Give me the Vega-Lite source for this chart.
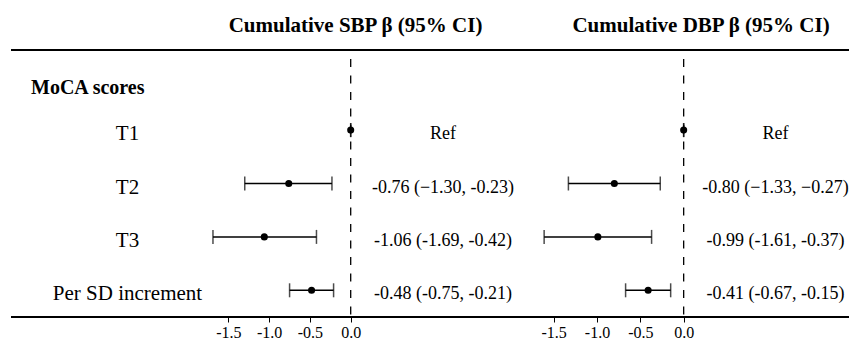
{
  "$schema": "https://vega.github.io/schema/vega-lite/v6.json",
  "padding": {"left": 10, "top": 15, "right": 0, "bottom": 0},
  "config": {
    "view": {"stroke": null},
    "concat": {"spacing": 0},
    "font": "Liberation Serif, Times New Roman, DejaVu Serif, serif",
    "locale": {"number": {"decimal": ".", "thousands": ",", "grouping": [3], "currency": ["$", ""], "minus": "-"}},
    "title": {"font": "Liberation Serif, Times New Roman, DejaVu Serif, serif", "fontSize": 21, "fontWeight": "bold", "color": "black", "offset": 13, "anchor": "middle"},
    "text": {"font": "Liberation Serif, Times New Roman, DejaVu Serif, serif", "color": "black"},
    "axis": {"labelFont": "Liberation Serif, Times New Roman, DejaVu Serif, serif"}
  },
  "datasets": {
    "est": [
      {"row": "T1", "sbp": 0, "sbp_lo": 0, "sbp_hi": 0, "sbp_txt": "Ref", "dbp": 0, "dbp_lo": 0, "dbp_hi": 0, "dbp_txt": "Ref"},
      {"row": "T2", "sbp": -0.76, "sbp_lo": -1.30, "sbp_hi": -0.23, "sbp_txt": "-0.76 (−1.30, -0.23)", "dbp": -0.80, "dbp_lo": -1.33, "dbp_hi": -0.27, "dbp_txt": "-0.80 (−1.33, −0.27)"},
      {"row": "T3", "sbp": -1.06, "sbp_lo": -1.69, "sbp_hi": -0.42, "sbp_txt": "-1.06 (-1.69, -0.42)", "dbp": -0.99, "dbp_lo": -1.61, "dbp_hi": -0.37, "dbp_txt": "-0.99 (-1.61, -0.37)"},
      {"row": "Per SD increment", "sbp": -0.48, "sbp_lo": -0.75, "sbp_hi": -0.21, "sbp_txt": "-0.48 (-0.75, -0.21)", "dbp": -0.41, "dbp_lo": -0.67, "dbp_hi": -0.15, "dbp_txt": "-0.41 (-0.67, -0.15)"}
    ]
  },
  "spacing": 0,
  "bounds": "flush",
  "hconcat": [
    {
      "width": 193,
      "height": 267,
      "data": {"name": "est"},
      "layer": [
        {"data": {"values": [{}]}, "mark": {"type": "rule", "strokeWidth": 2, "color": "black"}, "encoding": {"y": {"datum": "MoCA scores", "type": "nominal", "bandPosition": 0, "scale": {"domain": ["MoCA scores", "T1", "T2", "T3", "Per SD increment"], "paddingInner": 0, "paddingOuter": 0}, "axis": null}}},
        {"data": {"values": [{}]}, "mark": {"type": "rule", "strokeWidth": 2, "color": "black"}, "encoding": {"y": {"datum": "Per SD increment", "type": "nominal", "bandPosition": 1, "scale": {"domain": ["MoCA scores", "T1", "T2", "T3", "Per SD increment"], "paddingInner": 0, "paddingOuter": 0}, "axis": null}}},
        {"mark": {"type": "text", "fontSize": 21, "dx": 20, "dy": 4}, "encoding": {"y": {"field": "row", "type": "nominal", "scale": {"domain": ["MoCA scores", "T1", "T2", "T3", "Per SD increment"], "paddingInner": 0, "paddingOuter": 0}, "axis": null}, "text": {"field": "row"}}},
        {"data": {"values": [{"row": "MoCA scores"}]}, "mark": {"type": "text", "fontSize": 20, "fontWeight": "bold", "align": "left", "dx": -76.5, "dy": 11}, "encoding": {"y": {"field": "row", "type": "nominal", "scale": {"domain": ["MoCA scores", "T1", "T2", "T3", "Per SD increment"], "paddingInner": 0, "paddingOuter": 0}, "axis": null}, "text": {"field": "row"}}}
      ]
    },
    {
      "title": {"text": "Cumulative SBP  β (95% CI)", "dx": 70},
      "width": 163,
      "height": 267,
      "data": {"name": "est"},
      "layer": [
        {"data": {"values": [{}]}, "mark": {"type": "rule", "strokeWidth": 2, "color": "black"}, "encoding": {"y": {"datum": "MoCA scores", "type": "nominal", "bandPosition": 0, "scale": {"domain": ["MoCA scores", "T1", "T2", "T3", "Per SD increment"], "paddingInner": 0, "paddingOuter": 0}, "axis": null}}},
        {"data": {"values": [{}]}, "mark": {"type": "rule", "strokeWidth": 2, "color": "black"}, "encoding": {"y": {"datum": "Per SD increment", "type": "nominal", "bandPosition": 1, "scale": {"domain": ["MoCA scores", "T1", "T2", "T3", "Per SD increment"], "paddingInner": 0, "paddingOuter": 0}, "axis": null}}},
        {"data": {"values": [{}]}, "mark": {"type": "rule", "strokeWidth": 1.3, "strokeDash": [8, 8.5], "color": "black"}, "encoding": {
          "x": {"datum": 0, "type": "quantitative", "scale": {"domain": [-1.8, 0.2], "nice": false, "zero": false}, "axis": {"values": [-1.5, -1, -0.5, 0], "format": ".1f", "title": null, "domain": false, "grid": false, "ticks": true, "tickSize": 5, "tickWidth": 1, "tickColor": "black", "labelFontSize": 16, "labelColor": "black", "labelPadding": 2}},
          "y": {"datum": "MoCA scores", "type": "nominal", "bandPosition": 0.17, "scale": {"domain": ["MoCA scores", "T1", "T2", "T3", "Per SD increment"], "paddingInner": 0, "paddingOuter": 0}, "axis": null},
          "y2": {"datum": "Per SD increment", "bandPosition": 1}}},
        {"mark": {"type": "rule", "strokeWidth": 1.5, "color": "black"}, "encoding": {
          "x": {"field": "sbp_lo", "type": "quantitative", "title": null},
          "x2": {"field": "sbp_hi"},
          "y": {"field": "row", "type": "nominal", "axis": null}}},
        {"mark": {"type": "tick", "thickness": 1.5, "size": 14, "orient": "vertical", "color": "black"}, "encoding": {
          "x": {"field": "sbp_lo", "type": "quantitative", "title": null},
          "y": {"field": "row", "type": "nominal", "axis": null}}},
        {"mark": {"type": "tick", "thickness": 1.5, "size": 14, "orient": "vertical", "color": "black"}, "encoding": {
          "x": {"field": "sbp_hi", "type": "quantitative", "title": null},
          "y": {"field": "row", "type": "nominal", "axis": null}}},
        {"mark": {"type": "point", "filled": true, "size": 50, "opacity": 1, "color": "black"}, "encoding": {
          "x": {"field": "sbp", "type": "quantitative", "title": null},
          "y": {"field": "row", "type": "nominal", "axis": null}}}
      ]
    },
    {
      "width": 152,
      "height": 267,
      "data": {"name": "est"},
      "layer": [
        {"data": {"values": [{}]}, "mark": {"type": "rule", "strokeWidth": 2, "color": "black"}, "encoding": {"y": {"datum": "MoCA scores", "type": "nominal", "bandPosition": 0, "scale": {"domain": ["MoCA scores", "T1", "T2", "T3", "Per SD increment"], "paddingInner": 0, "paddingOuter": 0}, "axis": null}}},
        {"data": {"values": [{}]}, "mark": {"type": "rule", "strokeWidth": 2, "color": "black"}, "encoding": {"y": {"datum": "Per SD increment", "type": "nominal", "bandPosition": 1, "scale": {"domain": ["MoCA scores", "T1", "T2", "T3", "Per SD increment"], "paddingInner": 0, "paddingOuter": 0}, "axis": null}}},
        {"mark": {"type": "text", "fontSize": 18, "dy": 4}, "encoding": {"y": {"field": "row", "type": "nominal", "scale": {"domain": ["MoCA scores", "T1", "T2", "T3", "Per SD increment"], "paddingInner": 0, "paddingOuter": 0}, "axis": null}, "text": {"field": "sbp_txt"}}}
      ]
    },
    {
      "title": {"text": "Cumulative DBP  β (95% CI)", "dx": 91},
      "width": 182,
      "height": 267,
      "data": {"name": "est"},
      "layer": [
        {"data": {"values": [{}]}, "mark": {"type": "rule", "strokeWidth": 2, "color": "black"}, "encoding": {"y": {"datum": "MoCA scores", "type": "nominal", "bandPosition": 0, "scale": {"domain": ["MoCA scores", "T1", "T2", "T3", "Per SD increment"], "paddingInner": 0, "paddingOuter": 0}, "axis": null}}},
        {"data": {"values": [{}]}, "mark": {"type": "rule", "strokeWidth": 2, "color": "black"}, "encoding": {"y": {"datum": "Per SD increment", "type": "nominal", "bandPosition": 1, "scale": {"domain": ["MoCA scores", "T1", "T2", "T3", "Per SD increment"], "paddingInner": 0, "paddingOuter": 0}, "axis": null}}},
        {"data": {"values": [{}]}, "mark": {"type": "rule", "strokeWidth": 1.3, "strokeDash": [8, 8.5], "color": "black"}, "encoding": {
          "x": {"datum": 0, "type": "quantitative", "scale": {"domain": [-1.9, 0.2], "nice": false, "zero": false}, "axis": {"values": [-1.5, -1, -0.5, 0], "format": ".1f", "title": null, "domain": false, "grid": false, "ticks": true, "tickSize": 5, "tickWidth": 1, "tickColor": "black", "labelFontSize": 16, "labelColor": "black", "labelPadding": 2}},
          "y": {"datum": "MoCA scores", "type": "nominal", "bandPosition": 0.17, "scale": {"domain": ["MoCA scores", "T1", "T2", "T3", "Per SD increment"], "paddingInner": 0, "paddingOuter": 0}, "axis": null},
          "y2": {"datum": "Per SD increment", "bandPosition": 1}}},
        {"mark": {"type": "rule", "strokeWidth": 1.5, "color": "black"}, "encoding": {
          "x": {"field": "dbp_lo", "type": "quantitative", "title": null},
          "x2": {"field": "dbp_hi"},
          "y": {"field": "row", "type": "nominal", "axis": null}}},
        {"mark": {"type": "tick", "thickness": 1.5, "size": 14, "orient": "vertical", "color": "black"}, "encoding": {
          "x": {"field": "dbp_lo", "type": "quantitative", "title": null},
          "y": {"field": "row", "type": "nominal", "axis": null}}},
        {"mark": {"type": "tick", "thickness": 1.5, "size": 14, "orient": "vertical", "color": "black"}, "encoding": {
          "x": {"field": "dbp_hi", "type": "quantitative", "title": null},
          "y": {"field": "row", "type": "nominal", "axis": null}}},
        {"mark": {"type": "point", "filled": true, "size": 50, "opacity": 1, "color": "black"}, "encoding": {
          "x": {"field": "dbp", "type": "quantitative", "title": null},
          "y": {"field": "row", "type": "nominal", "axis": null}}}
      ]
    },
    {
      "width": 149,
      "height": 267,
      "data": {"name": "est"},
      "layer": [
        {"data": {"values": [{}]}, "mark": {"type": "rule", "strokeWidth": 2, "color": "black"}, "encoding": {"y": {"datum": "MoCA scores", "type": "nominal", "bandPosition": 0, "scale": {"domain": ["MoCA scores", "T1", "T2", "T3", "Per SD increment"], "paddingInner": 0, "paddingOuter": 0}, "axis": null}}},
        {"data": {"values": [{}]}, "mark": {"type": "rule", "strokeWidth": 2, "color": "black"}, "encoding": {"y": {"datum": "Per SD increment", "type": "nominal", "bandPosition": 1, "scale": {"domain": ["MoCA scores", "T1", "T2", "T3", "Per SD increment"], "paddingInner": 0, "paddingOuter": 0}, "axis": null}}},
        {"mark": {"type": "text", "fontSize": 18, "dy": 4}, "encoding": {"y": {"field": "row", "type": "nominal", "scale": {"domain": ["MoCA scores", "T1", "T2", "T3", "Per SD increment"], "paddingInner": 0, "paddingOuter": 0}, "axis": null}, "text": {"field": "dbp_txt"}}}
      ]
    }
  ]
}
